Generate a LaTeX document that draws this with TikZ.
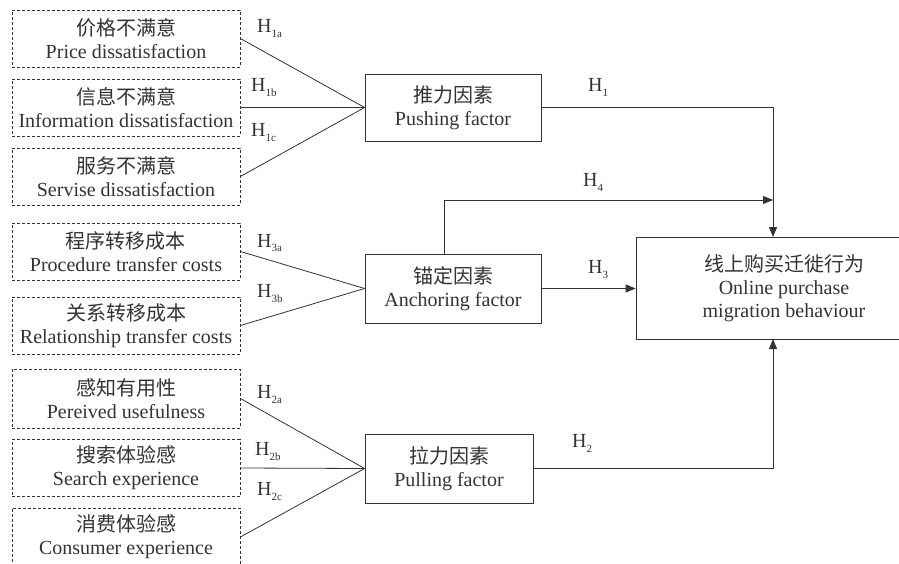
\documentclass[tikz,border=0pt]{standalone}
\usepackage{fontspec}
\setmainfont{Liberation Serif}
\newfontfamily\cjk{Noto Sans CJK SC}
\usetikzlibrary{arrows.meta}
\definecolor{ink}{HTML}{333333}
\newcommand\hyp[1]{H\raisebox{-5pt}{\fontsize{11}{11}\selectfont #1}}
\begin{document}
\begin{tikzpicture}[x=1pt,y=-1pt,
  every node/.style={font=\fontsize{20}{23}\selectfont, text=ink},
  dbox/.style={draw=ink, dash pattern=on 3pt off 2pt, line width=0.8pt, minimum width=228pt, minimum height=57pt, align=center, inner sep=0pt},
  sbox/.style={draw=ink, line width=0.8pt, align=center, inner sep=0pt},
  link/.style={draw=ink, line width=0.8pt},
  arr/.style={link, -{Triangle[length=10pt,width=8pt]}},
  hl/.style={anchor=base west, inner sep=0pt}]
\useasboundingbox (0,0) rectangle (899,564);
\clip (0,0) rectangle (899,564);
\fill[white] (0,0) rectangle (899,564);

% left dashed boxes
\node[dbox] (b1) at (126,38.5) {{\cjk 价格不满意}\\Price dissatisfaction};
\node[dbox] (b2) at (126,107.5) {{\cjk 信息不满意}\\Information dissatisfaction};
\node[dbox] (b3) at (126,176.5) {{\cjk 服务不满意}\\Servise dissatisfaction};
\node[dbox] (b4) at (126,251.5) {{\cjk 程序转移成本}\\Procedure transfer costs};
\node[dbox] (b5) at (126,325.5) {{\cjk 关系转移成本}\\Relationship transfer costs};
\node[dbox, minimum height=59pt] (b6) at (126,398.5) {{\cjk 感知有用性}\\Pereived usefulness};
\node[dbox] (b7) at (126,468) {{\cjk 搜索体验感}\\Search experience};
\node[dbox, minimum height=58pt] (b8) at (126,537) {{\cjk 消费体验感}\\Consumer experience};

% factor boxes
\node[sbox, minimum width=176pt, minimum height=67pt] (push) at (453,107.5) {{\cjk 推力因素}\\Pushing factor};
\node[sbox, minimum width=176pt, minimum height=69pt] (anchor) at (453,288.5) {{\cjk 锚定因素}\\Anchoring factor};
\node[sbox, minimum width=168pt, minimum height=69pt] (pull) at (449,468.5) {{\cjk 拉力因素}\\Pulling factor};

% target
\node[sbox, minimum width=296pt, minimum height=102pt] (target) at (784,288) {{\cjk 线上购买迁徙行为}\\Online purchase\\migration behaviour};

\coordinate (t1) at (773,237);
\coordinate (t2) at (773,339);
\coordinate (a4) at (444,254);
\coordinate (j4) at (773,200);

% connectors
\draw[link] (b1.east) -- (push.west);
\draw[link] (b2.east) -- (push.west);
\draw[link] (b3.east) -- (push.west);
\draw[link] (b4.east) -- (anchor.west);
\draw[link] (b5.east) -- (anchor.west);
\draw[link] (b6.east) -- (pull.west);
\draw[link] (b7.east) -- (pull.west);
\draw[link] (b8.east) -- (pull.west);

\draw[arr] (push.east) -| (t1);
\draw[arr] (a4) |- (j4);
\draw[arr] (anchor.east) -- (target.west |- anchor.east);
\draw[arr] (pull.east) -| (t2);

% labels
\node[hl] (h1a) at (257,33) {\hyp{1a}};
\node[hl] (h1b) at (251,92) {\hyp{1b}};
\node[hl] (h1c) at (251,137) {\hyp{1c}};
\node[hl] (h3a) at (257,247) {\hyp{3a}};
\node[hl] (h3b) at (257,297) {\hyp{3b}};
\node[hl] (h2a) at (257,398) {\hyp{2a}};
\node[hl] (h2b) at (255,455) {\hyp{2b}};
\node[hl] (h2c) at (257,495) {\hyp{2c}};
\node[hl] (h1) at (588,92) {\hyp{1}};
\node[hl] (h4) at (583,187) {\hyp{4}};
\node[hl] (h3) at (588,273) {\hyp{3}};
\node[hl] (h2) at (572,447) {\hyp{2}};
\end{tikzpicture}
\end{document}
